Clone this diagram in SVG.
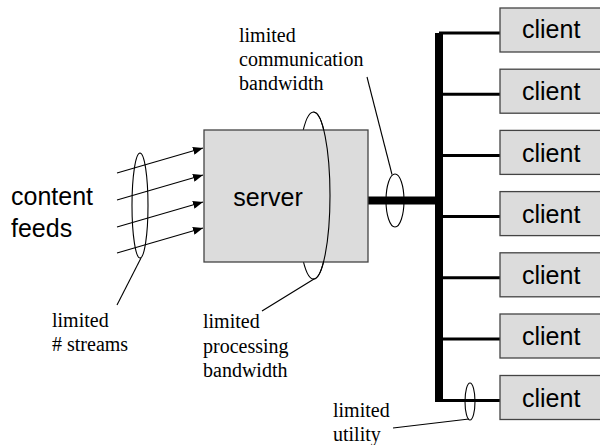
<svg xmlns="http://www.w3.org/2000/svg" width="600" height="445" viewBox="0 0 600 445">
<defs>
<style>
.box{fill:#dcdcdc;stroke:#444;stroke-width:1.3}
.sans{font-family:"Liberation Sans",Arial,sans-serif;font-size:25px;fill:#000}
.serif{font-family:"Liberation Serif","Times New Roman",serif;font-size:20px;fill:#000}
.thin{fill:none;stroke:#000;stroke-width:1.1}
.branch{stroke:#000;stroke-width:3}
.arrow{stroke:#000;stroke-width:1.1;marker-end:url(#ah)}
</style>
<marker id="ah" viewBox="0 0 10 8" refX="10" refY="4" markerWidth="10" markerHeight="8" markerUnits="userSpaceOnUse" orient="auto">
<path d="M0,0 L10,4 L0,8 z" fill="#000"/>
</marker>
</defs>
<rect width="600" height="445" fill="#fff"/>

<g id="content-feeds">
<text class="sans" x="11" y="205">content</text>
<text class="sans" x="11" y="237">feeds</text>
</g>

<g id="connectors">
<line class="arrow" x1="117" y1="173" x2="203" y2="148"/>
<line class="arrow" x1="117" y1="200" x2="203" y2="175"/>
<line class="arrow" x1="117" y1="227" x2="203" y2="202"/>
<line class="arrow" x1="117" y1="253" x2="203" y2="228"/>
<line x1="368" y1="200.5" x2="439" y2="200.5" stroke="#000" stroke-width="8"/>
<line x1="439" y1="33" x2="439" y2="402" stroke="#000" stroke-width="8"/>
<line class="branch" x1="439" y1="33" x2="500" y2="33"/>
<line class="branch" x1="439" y1="94.2" x2="500" y2="94.2"/>
<line class="branch" x1="439" y1="155.4" x2="500" y2="155.4"/>
<line class="branch" x1="439" y1="216.6" x2="500" y2="216.6"/>
<line class="branch" x1="439" y1="277.8" x2="500" y2="277.8"/>
<line class="branch" x1="439" y1="339" x2="500" y2="339"/>
<line class="branch" x1="439" y1="400.5" x2="500" y2="400.5"/>
</g>

<g id="streams-limit">
<ellipse class="thin" cx="140" cy="205.5" rx="8" ry="52.5"/>
<line class="thin" x1="141" y1="258" x2="117" y2="305"/>
<text class="serif" x="52" y="327">limited</text>
<text class="serif" x="52" y="351"># streams</text>
</g>

<g id="server">
<ellipse class="thin" cx="313.5" cy="195.5" rx="16.5" ry="83.5"/>
<rect class="box" x="204" y="130" width="164" height="132" stroke="#555"/>
<path class="thin" d="M313.5,112 A16.5,83.5 0 0 1 313.5,279"/>
<text class="sans" x="268" y="206" text-anchor="middle">server</text>
</g>

<g id="processing-limit">
<line class="thin" x1="314" y1="279" x2="262" y2="311"/>
<text class="serif" x="203" y="328">limited</text>
<text class="serif" x="203" y="353">processing</text>
<text class="serif" x="203" y="377">bandwidth</text>
</g>

<g id="communication-limit">
<ellipse class="thin" cx="395" cy="200.5" rx="9" ry="26.5"/>
<line class="thin" x1="367" y1="77" x2="392" y2="174.5"/>
<text class="serif" x="239" y="41.5">limited</text>
<text class="serif" x="239" y="65.5">communication</text>
<text class="serif" x="239" y="90">bandwidth</text>
</g>

<g id="client1"><rect class="box" x="500" y="8" width="110" height="44"/><text class="sans" x="522" y="38">client</text></g>
<g id="client2"><rect class="box" x="500" y="69.2" width="110" height="44"/><text class="sans" x="522" y="100">client</text></g>
<g id="client3"><rect class="box" x="500" y="130.4" width="110" height="44"/><text class="sans" x="522" y="161.5">client</text></g>
<g id="client4"><rect class="box" x="500" y="191.6" width="110" height="44"/><text class="sans" x="522" y="222.5">client</text></g>
<g id="client5"><rect class="box" x="500" y="252.8" width="110" height="44"/><text class="sans" x="522" y="284">client</text></g>
<g id="client6"><rect class="box" x="500" y="314" width="110" height="44"/><text class="sans" x="522" y="345">client</text></g>
<g id="client7"><rect class="box" x="500" y="375.5" width="110" height="44"/><text class="sans" x="522" y="406.5">client</text></g>

<g id="utility-limit">
<ellipse class="thin" cx="470" cy="401.5" rx="5" ry="18.5"/>
<line class="thin" x1="469" y1="419" x2="393" y2="428"/>
<text class="serif" x="333" y="417">limited</text>
<text class="serif" x="333" y="441">utility</text>
</g>
</svg>
